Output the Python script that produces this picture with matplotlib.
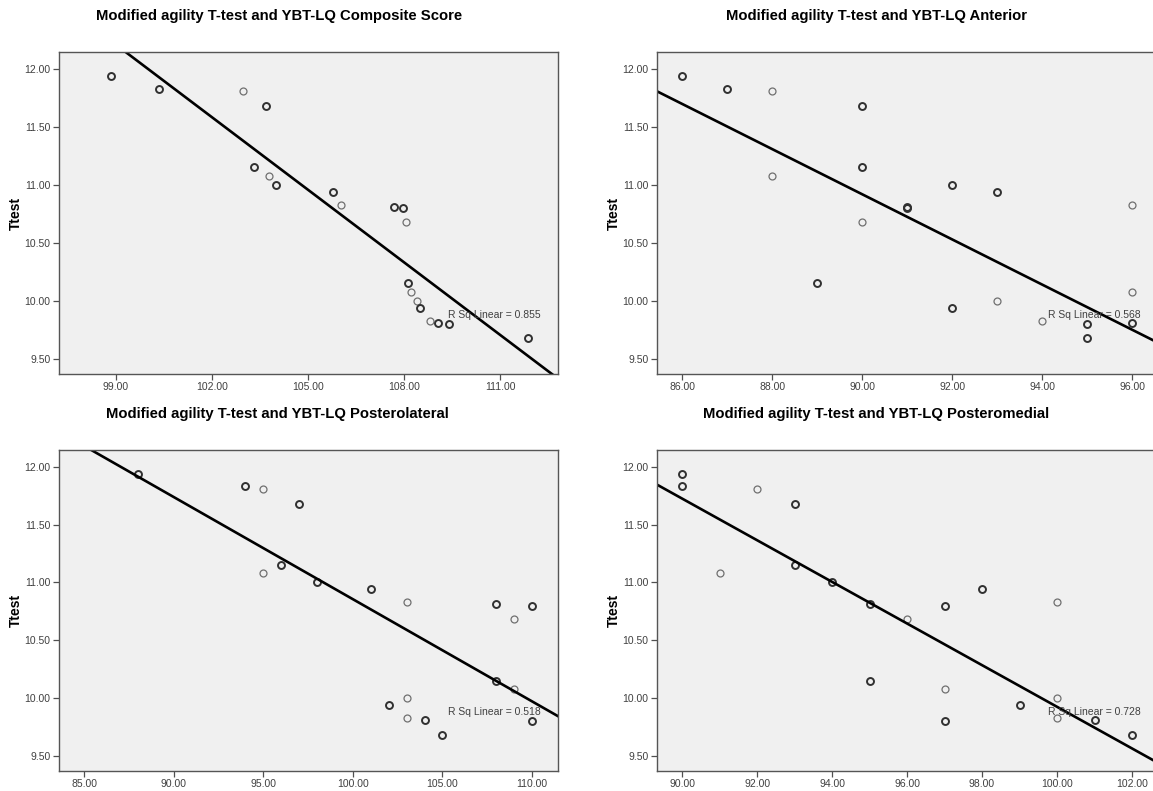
import numpy as np
import matplotlib
matplotlib.use('Agg')
import matplotlib.pyplot as plt

plt.rcParams['font.family'] = ['Liberation Sans', 'DejaVu Sans']

# Modified agility T-test times (same participants in every panel)
ttest = [11.94, 11.83, 11.81, 11.68, 11.15, 11.08, 11.00, 10.94, 10.83, 10.81,
         10.80, 10.68, 10.15, 10.08, 10.00, 9.94, 9.83, 9.81, 9.80, 9.68]

# YBT-LQ reach scores
composite = [98.85, 100.35, 102.97, 103.69, 103.32, 103.77, 104.01, 105.78, 106.01, 107.68,
             107.96, 108.04, 108.12, 108.22, 108.40, 108.50, 108.79, 109.04, 109.40, 111.85]
anterior = [86, 87, 88, 90, 90, 88, 92, 93, 96, 91,
            91, 90, 89, 96, 93, 92, 94, 96, 95, 95]
posterolateral = [88, 94, 95, 97, 96, 95, 98, 101, 103, 108,
                  110, 109, 108, 109, 103, 102, 103, 104, 110, 105]
posteromedial = [90, 90, 92, 93, 93, 91, 94, 98, 100, 95,
                 97, 96, 95, 97, 100, 99, 100, 101, 97, 102]

# darker circles in the original = overlapping cases
n_cases = [2, 2, 1, 2, 2, 1, 2, 2, 1, 2, 2, 1, 2, 1, 1, 2, 1, 2, 2, 2]

# SPSS linear fit lines
fit_slope = [-0.2085, -0.1946, -0.0883, -0.180]
fit_intercept = [32.849, 28.433, 19.685, 27.925]
r_sq = [0.855, 0.568, 0.518, 0.728]

titles = ['Modified agility T-test and YBT-LQ Composite Score',
          'Modified agility T-test and YBT-LQ Anterior',
          'Modified agility T-test and YBT-LQ Posterolateral',
          'Modified agility T-test and YBT-LQ Posteromedial']
xticks = [[99, 102, 105, 108, 111],
          [86, 88, 90, 92, 94, 96],
          [85, 90, 95, 100, 105, 110],
          [90, 92, 94, 96, 98, 100, 102]]
yticks = [9.5, 10.0, 10.5, 11.0, 11.5, 12.0]

W, H = 1153, 791
fig = plt.figure(figsize=(W / 100, H / 100), dpi=100)

# panel layout in pixels: left, right, top, bottom
boxes = [(59, 558, 52, 374), (657, 1156, 52, 374),
         (59, 558, 450, 771), (657, 1156, 450, 771)]
xlims = [(97.22, 112.8), (85.44, 96.53), (83.59, 111.45), (89.33, 102.64)]
title_pos = [(279, 16), (876, 16), (277, 414), (876, 414)]
ylabel_x = [16, 614, 16, 614]
rsq_xy = [(109.37, 9.877), (94.12, 9.877), (105.32, 9.877), (99.75, 9.877)]

xs_all = [composite, anterior, posterolateral, posteromedial]
y = np.array(ttest)
cnt = np.array(n_cases)

for i in range(4):
    l, r, t, b = boxes[i]
    ax = fig.add_axes([l / W, 1 - b / H, (r - l) / W, (b - t) / H])
    ax.set_facecolor('#f0f0f0')
    x = np.array(xs_all[i], dtype=float)

    light = cnt == 1
    ax.plot(x[light], y[light], 'o', ms=5, mfc='none', mec='#707070', mew=0.9)
    ax.plot(x[~light], y[~light], 'o', ms=5, mfc='none', mec='#303030', mew=1.4)

    xl = np.array(xlims[i])
    ax.plot(xl, fit_slope[i] * xl + fit_intercept[i], color='black', lw=1.9)

    ax.set_xlim(*xlims[i])
    ax.set_ylim(9.37, 12.145)
    ax.set_xticks(xticks[i])
    ax.set_xticklabels(['%.2f' % v for v in xticks[i]])
    ax.set_yticks(yticks)
    ax.set_yticklabels(['%.2f' % v for v in yticks])
    ax.tick_params(labelsize=7.5, labelcolor='#404040', color='#505050',
                   length=4, width=0.9, pad=2)
    for s in ax.spines.values():
        s.set_color('#555555')
        s.set_linewidth(1.0)

    ax.text(rsq_xy[i][0], rsq_xy[i][1], 'R Sq Linear = %.3f' % r_sq[i],
            fontsize=7.5, color='#404040', va='center', ha='left')

    fig.text(title_pos[i][0] / W, 1 - title_pos[i][1] / H, titles[i],
             fontsize=10.7, fontweight='bold', ha='center', va='center')
    fig.text(ylabel_x[i] / W, 1 - ((t + b) / 2) / H, 'Ttest', rotation=90,
             fontsize=10, fontweight='bold', ha='center', va='center')

fig.savefig('out.png', dpi=100)
